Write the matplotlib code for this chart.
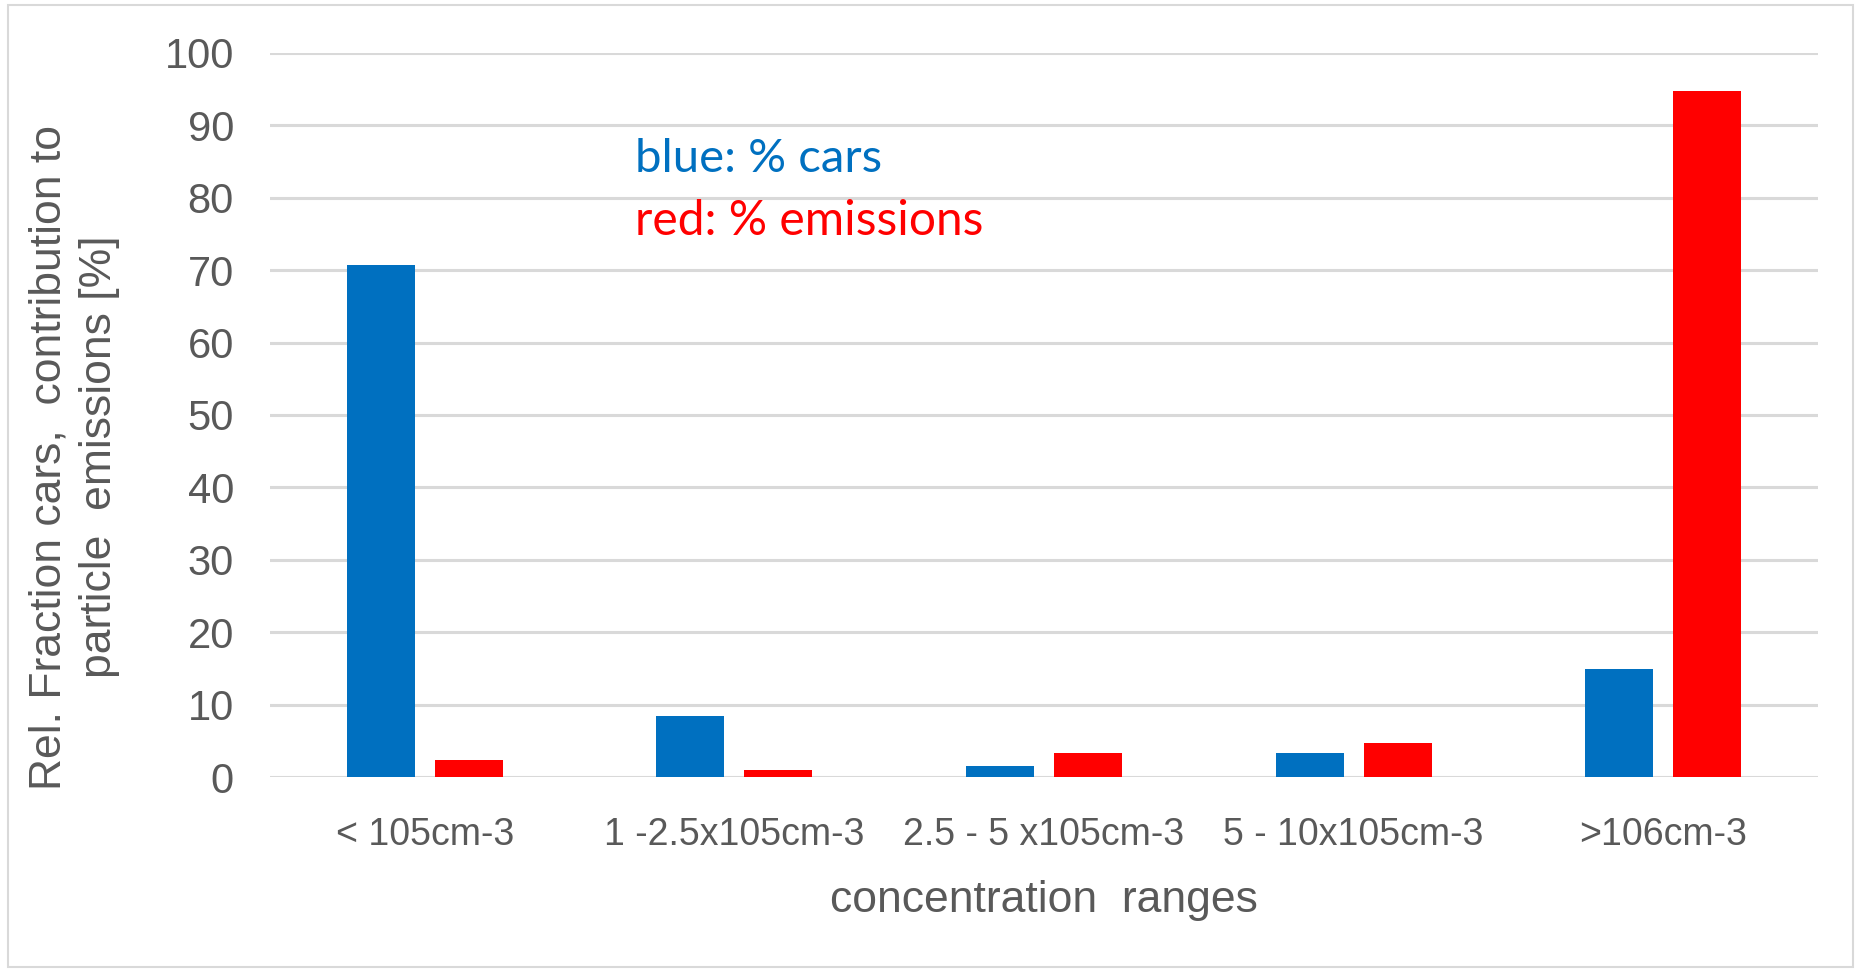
"""Grouped bar chart: share of cars and of particle emissions per concentration range."""

import matplotlib

matplotlib.use("Agg")
import matplotlib.pyplot as plt
import numpy as np
from matplotlib.patches import Rectangle

plt.rcParams["font.family"] = ["Liberation Sans", "DejaVu Sans"]

# Data
categories = ["< 105cm-3", "1 -2.5x105cm-3", "2.5 - 5 x105cm-3", "5 - 10x105cm-3", ">106cm-3"]
cars_pct = [70.7, 8.4, 1.5, 3.3, 14.9]
emissions_pct = [2.3, 1.0, 3.3, 4.7, 94.8]
y_ticks = [0, 10, 20, 30, 40, 50, 60, 70, 80, 90, 100]

BLUE = "#0070C0"
RED = "#FF0000"
GRID = "#D9D9D9"
TEXT = "#595959"

fig = plt.figure(figsize=(18.6, 9.72), dpi=100)
fig.patch.set_facecolor("white")

# thin frame round the whole chart
fig.patches.append(Rectangle((8 / 1860, 5 / 972), 1845 / 1860, 962 / 972,
                             transform=fig.transFigure, fill=False,
                             edgecolor=GRID, linewidth=1.5))

ax = fig.add_axes([270 / 1860, 1 - 777 / 972, 1548 / 1860, 724 / 972])
x = np.arange(len(categories))
width = 0.22
offset = 0.142
ax.bar(x - offset, cars_pct, width, color=BLUE, zorder=3)
ax.bar(x + offset, emissions_pct, width, color=RED, zorder=3)

ax.set_xlim(-0.5, len(categories) - 0.5)
ax.set_ylim(0, 100)
ax.set_yticks(y_ticks)
ax.yaxis.grid(True, color=GRID, linewidth=2.2, zorder=0)
ax.set_axisbelow(True)
for s in ax.spines.values():
    s.set_visible(False)
ax.tick_params(axis="both", length=0, colors=TEXT)
ax.tick_params(axis="y", labelsize=30, pad=26)
ax.set_xticks(x)
ax.set_xticklabels(categories, fontsize=27)
ax.tick_params(axis="x", pad=29)

ax.set_xlabel("concentration  ranges", fontsize=32, color=TEXT, labelpad=19)

# y title sits a little below the axis centre
fig.text(74 / 1860, 1 - 457 / 972,
         "Rel. Fraction cars,  contribution to\nparticle  emissions [%]",
         rotation=90, fontsize=32, color=TEXT, ha="center", va="center",
         multialignment="center", linespacing=1.3)

fig.text(635 / 1860, 1 - 159 / 972, "blue: % cars", color=BLUE, fontsize=34,
         family=["Lato", "DejaVu Sans"], va="center", ha="left")
fig.text(635 / 1860, 1 - 221 / 972, "red: % emissions", color=RED, fontsize=34.5,
         family=["Lato", "DejaVu Sans"], va="center", ha="left")

fig.savefig("out.png", dpi=100)
